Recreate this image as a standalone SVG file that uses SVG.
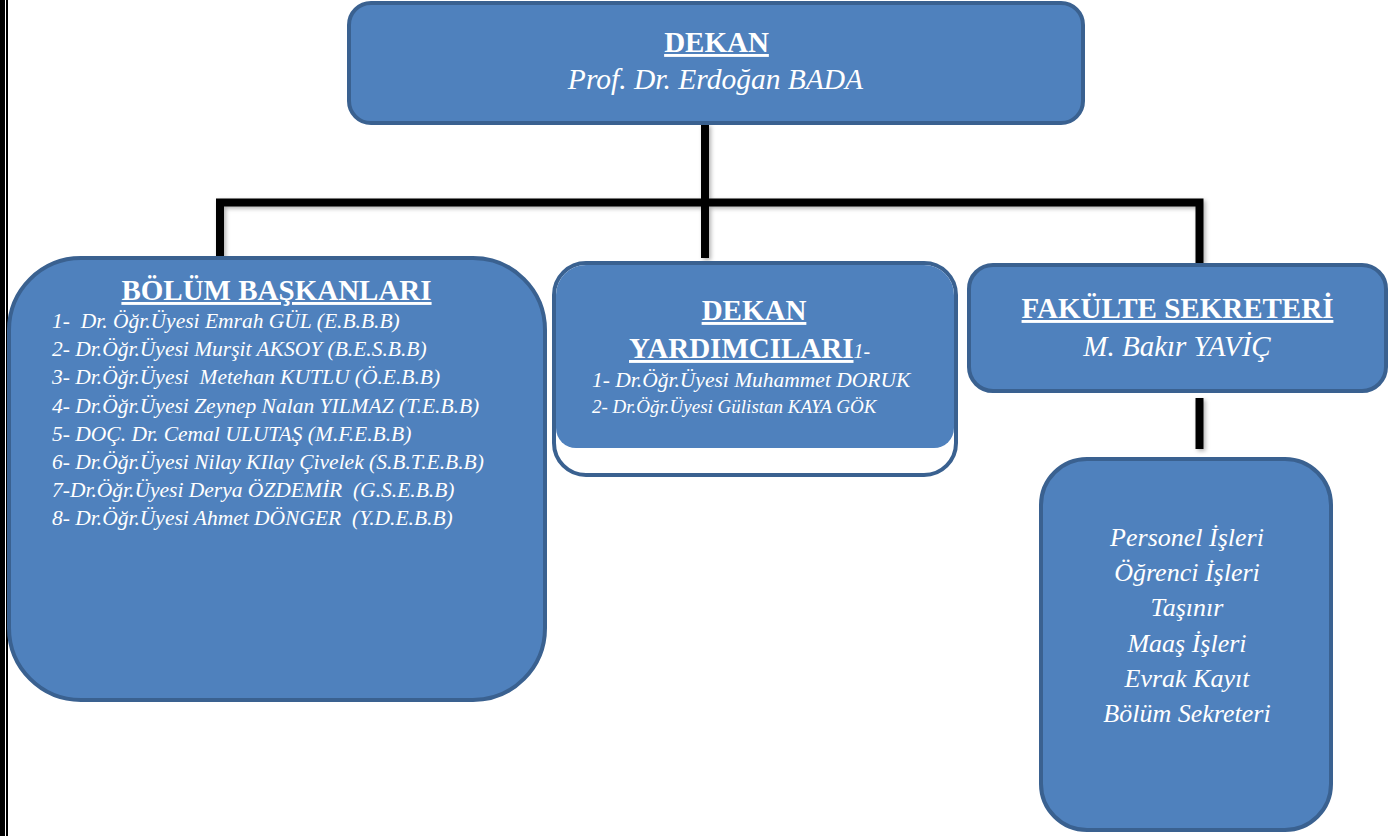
<svg xmlns="http://www.w3.org/2000/svg" width="1398" height="836" viewBox="0 0 1398 836" xml:space="preserve">
<defs>
<style>
.box{fill:#4f81bd;stroke:#3a6190;stroke-width:4}
.t{font-family:"Liberation Serif","Times New Roman",serif;fill:#ffffff;white-space:pre}
.h{font-weight:bold;font-size:29px;text-decoration:underline}
.i{font-style:italic}
.conn{fill:none;stroke:#000000;stroke-width:8;stroke-linejoin:miter;stroke-linecap:butt}
</style>
<filter id="sh" x="-20%" y="-20%" width="140%" height="140%">
<feDropShadow dx="2" dy="2" stdDeviation="2" flood-color="#000000" flood-opacity="0.3"/>
</filter>
</defs>
<rect width="1398" height="836" fill="#ffffff"/>
<rect x="0" y="0" width="5" height="836" fill="#000000"/>
<rect x="6" y="0" width="2" height="836" fill="#000000"/>

<g id="connectors" filter="url(#sh)">
<path class="conn" d="M705 124 V258"/>
<path class="conn" d="M220 258 V202.5 H1199.5 V263"/>
<path class="conn" d="M1199.5 398 V449"/>
</g>

<g id="dekan">
<rect class="box" x="349" y="3" width="734" height="120" rx="22" ry="22"/>
<text class="t h" x="716.5" y="52" text-anchor="middle">DEKAN</text>
<text class="t i" x="715.5" y="89" font-size="29.5" text-anchor="middle">Prof. Dr. Erdoğan BADA</text>
</g>

<g id="bolum-baskanlari">
<rect class="box" x="9" y="258" width="536" height="442" rx="72" ry="72"/>
<text class="t h" x="276.5" y="300" text-anchor="middle">BÖLÜM BAŞKANLARI</text>
<g class="t i" font-size="21.5">
<text x="52" y="328">1-&#160; Dr. Öğr.Üyesi Emrah GÜL (E.B.B.B)</text>
<text x="52" y="356">2- Dr.Öğr.Üyesi Murşit AKSOY (B.E.S.B.B)</text>
<text x="52" y="384">3- Dr.Öğr.Üyesi&#160; Metehan KUTLU (Ö.E.B.B)</text>
<text x="52" y="413">4- Dr.Öğr.Üyesi Zeynep Nalan YILMAZ (T.E.B.B)</text>
<text x="52" y="441">5- DOÇ. Dr. Cemal ULUTAŞ (M.F.E.B.B)</text>
<text x="52" y="469">6- Dr.Öğr.Üyesi Nilay KIlay Çivelek (S.B.T.E.B.B)</text>
<text x="52" y="497">7-Dr.Öğr.Üyesi Derya ÖZDEMİR&#160; (G.S.E.B.B)</text>
<text x="52" y="525">8- Dr.Öğr.Üyesi Ahmet DÖNGER&#160; (Y.D.E.B.B)</text>
</g>
</g>

<g id="dekan-yardimcilari">
<rect x="554" y="263" width="402" height="212" rx="32" ry="32" fill="#ffffff" stroke="#3a6190" stroke-width="4"/>
<path d="M586 265 H924 A30 30 0 0 1 954 295 V428 A20 20 0 0 1 934 448 H576 A20 20 0 0 1 556 428 V295 A30 30 0 0 1 586 265 Z" fill="#4f81bd"/>
<text class="t h" x="754" y="320" text-anchor="middle">DEKAN</text>
<text class="t" x="629" y="358" font-size="29"><tspan font-weight="bold" text-decoration="underline">YARDIMCILARI</tspan><tspan font-style="italic" font-size="20">1-</tspan></text>
<text class="t i" x="592" y="387" font-size="21.5">1- Dr.Öğr.Üyesi Muhammet DORUK</text>
<text class="t i" x="592" y="413" font-size="19">2- Dr.Öğr.Üyesi Gülistan KAYA GÖK</text>
</g>

<g id="fakulte-sekreteri">
<rect class="box" x="969" y="265" width="417" height="126" rx="24" ry="24"/>
<text class="t h" x="1177.5" y="318" text-anchor="middle">FAKÜLTE SEKRETERİ</text>
<text class="t i" x="1177" y="356" font-size="29" text-anchor="middle">M. Bakır YAVİÇ</text>
</g>

<g id="birimler">
<rect class="box" x="1041" y="459" width="290" height="371" rx="46" ry="46"/>
<g class="t i" font-size="26" text-anchor="middle">
<text x="1187" y="546">Personel İşleri</text>
<text x="1187" y="581">Öğrenci İşleri</text>
<text x="1187" y="616">Taşınır</text>
<text x="1187" y="652">Maaş İşleri</text>
<text x="1187" y="687">Evrak Kayıt</text>
<text x="1187" y="722">Bölüm Sekreteri</text>
</g>
</g>
</svg>
